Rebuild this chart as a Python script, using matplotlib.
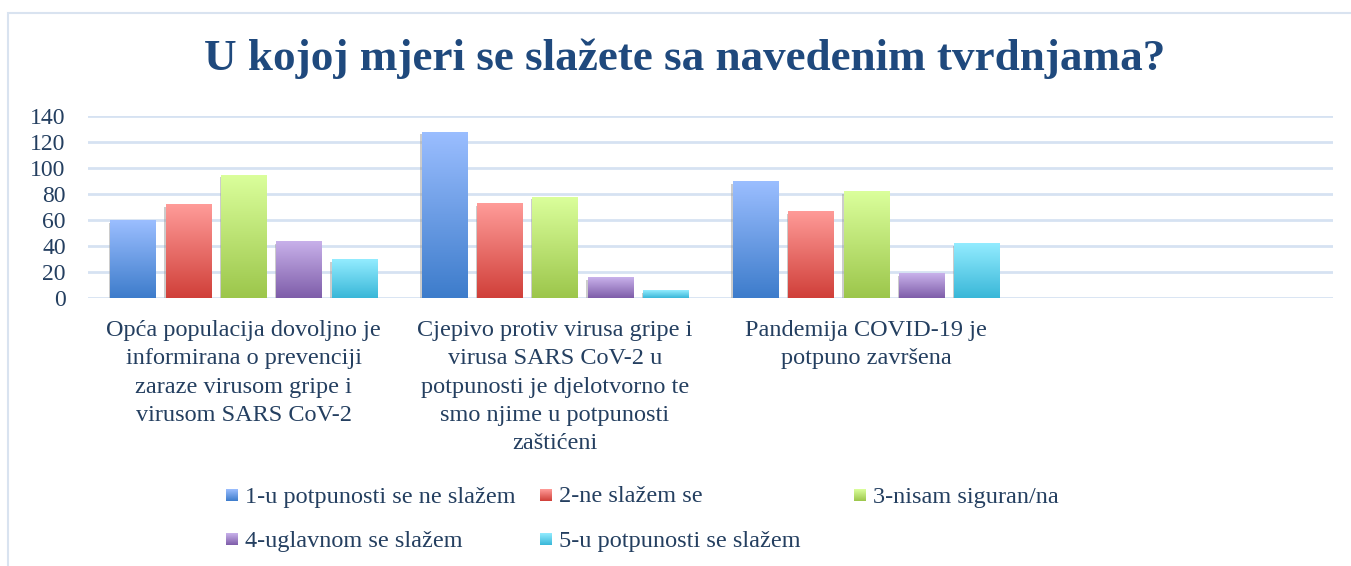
import numpy as np
import matplotlib
matplotlib.use("Agg")
import matplotlib.pyplot as plt
import matplotlib.patheffects as pe
from matplotlib.colors import LinearSegmentedColormap
from matplotlib.patches import Rectangle

# podaci
categories = [
    "Opća populacija dovoljno je\ninformirana o prevenciji\nzaraze virusom gripe i\nvirusom SARS CoV-2",
    "Cjepivo protiv virusa gripe i\nvirusa SARS CoV-2 u\npotpunosti je djelotvorno te\nsmo njime u potpunosti\nzaštićeni",
    "Pandemija COVID-19 je\npotpuno završena",
]
series_names = [
    "1-u potpunosti se ne slažem",
    "2-ne slažem se",
    "3-nisam siguran/na",
    "4-uglavnom se slažem",
    "5-u potpunosti se slažem",
]
s1 = [60, 128, 90]
s2 = [72, 73, 67]
s3 = [95, 78, 82]
s4 = [44, 16, 19]
s5 = [30, 6, 42]
series_values = [s1, s2, s3, s4, s5]
yticks = [0, 20, 40, 60, 80, 100, 120, 140]

# gradijenti (vrh, dno)
grad_colors = [
    ("#9BBEFF", "#3D7CCB"),
    ("#FF9C99", "#D03F39"),
    ("#DBFF9C", "#9CC64B"),
    ("#C9B2EB", "#7E5DA9"),
    ("#93ECFF", "#39B7D8"),
]

txt_color = "#243F60"
title_color = "#1F497D"
grid_color = "#D6E2F2"
font = ["Liberation Serif", "DejaVu Serif"]
plt.rcParams["font.family"] = font

W, H = 1351, 566
fig = plt.figure(figsize=(W / 100, H / 100), dpi=100)
ax = fig.add_axes([88 / W, 1 - 298 / H, (1333 - 88) / W, (298 - 116) / H])

# okvir grafikona
fig.add_artist(Rectangle((8 / W, -0.1), 1.2, 1.1 - 13 / H, transform=fig.transFigure,
                         fill=False, edgecolor="#D9E3F0", lw=1.5))

fig.text(685 / W, 1 - 59 / H, "U kojoj mjeri se slažete sa navedenim tvrdnjama?",
         ha="center", va="center", fontsize=32.5, fontweight="bold", color=title_color)

step = 0.178
width = 0.145
x = np.arange(len(categories))
grad = np.linspace(1, 0, 256).reshape(-1, 1)

for j, vals in enumerate(series_values):
    cmap = LinearSegmentedColormap.from_list(f"g{j}", [grad_colors[j][1], grad_colors[j][0]])
    bars = ax.bar(x + (j - 2) * step, vals, width, facecolor="none", edgecolor="none", zorder=2)
    for b in bars:
        b.set_path_effects([pe.SimplePatchShadow(offset=(-1, -2), shadow_rgbFace="#9a9a9a", alpha=0.5)])
        x0, y0 = b.get_x(), b.get_y()
        im = ax.imshow(grad, cmap=cmap, aspect="auto", zorder=3,
                       extent=[x0, x0 + b.get_width(), y0, y0 + b.get_height()])
        im.set_clip_path(b)

ax.set_xlim(-0.5, 3.5)
ax.set_ylim(0, 140)
ax.set_yticks(yticks)
ax.set_xticks(x)
ax.set_xticklabels(categories, fontsize=17.5, color=txt_color, linespacing=1.45, va="top")
ax.tick_params(axis="x", length=0, pad=16)
ax.tick_params(axis="y", length=0, pad=16, labelsize=17, labelcolor=txt_color)
ax.grid(axis="y", color=grid_color, lw=2, zorder=0)
ax.set_axisbelow(True)
for sp in ax.spines.values():
    sp.set_visible(False)

# legenda
for i, name in enumerate(series_names):
    row, col = divmod(i, 3)
    lx = 226 + col * 314
    ly = 495 + row * 44
    lax = fig.add_axes([lx / W, 1 - (ly + 6) / H, 12 / W, 12 / H])
    cm = LinearSegmentedColormap.from_list(f"l{i}", [grad_colors[i][1], grad_colors[i][0]])
    lax.imshow(grad, cmap=cm, aspect="auto")
    lax.axis("off")
    fig.text((lx + 19) / W, 1 - (ly + 2) / H, name, ha="left", va="center",
             fontsize=17.5, color=txt_color)

fig.savefig("out.png", dpi=100)
